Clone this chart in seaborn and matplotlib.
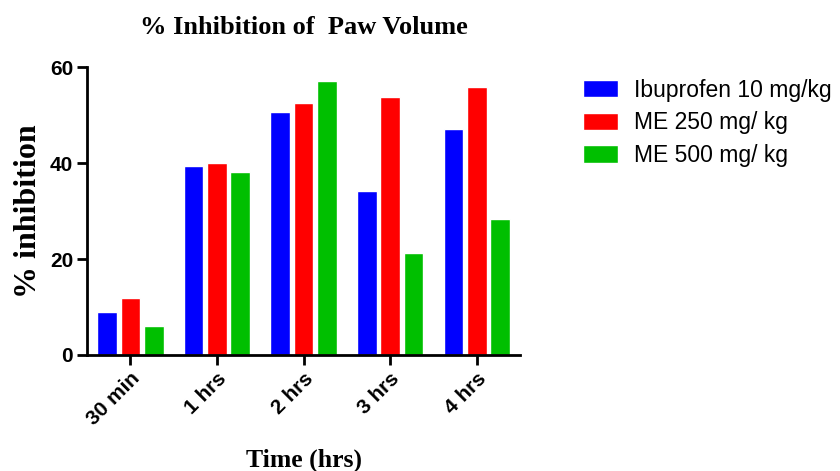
import pandas as pd
import numpy as np
import matplotlib
matplotlib.use('Agg')
import matplotlib.pyplot as plt
import seaborn as sns

# 資料
times = ['30 min', '1 hrs', '2 hrs', '3 hrs', '4 hrs']
groups = ['Ibuprofen 10 mg/kg', 'ME 250 mg/ kg', 'ME 500 mg/ kg']
ibuprofen = [8.9, 39.4, 50.6, 34.2, 47.1]
me250 = [11.9, 40.1, 52.6, 53.8, 55.8]
me500 = [6.0, 38.1, 57.1, 21.3, 28.3]
colors = ['#0000FF', '#FF0000', '#00BF00']

df = pd.DataFrame({
    'Time': times * 3,
    'Group': [groups[0]] * 5 + [groups[1]] * 5 + [groups[2]] * 5,
    'Inhibition': ibuprofen + me250 + me500,
})

sns.set_style('white')
plt.rcParams['font.family'] = ['Liberation Sans', 'DejaVu Sans']
plt.rcParams['text.color'] = 'black'
plt.rcParams['axes.labelcolor'] = 'black'
plt.rcParams['xtick.color'] = 'black'
plt.rcParams['ytick.color'] = 'black'

fig = plt.figure(figsize=(8.4, 4.71), dpi=100)
ax = fig.add_axes([0.1036, 0.2463, 0.5155, 0.6114])

sns.barplot(data=df, x='Time', y='Inhibition', hue='Group', order=times,
            hue_order=groups, palette=colors, width=0.81, gap=0.16,
            saturation=1, ax=ax, errorbar=None)

ax.set_xlim(-0.5, 4.5)
ax.set_ylim(0, 60)
ax.set_yticks([0, 20, 40, 60])

# 軸線
for s in ['top', 'right']:
    ax.spines[s].set_visible(False)
for s in ['left', 'bottom']:
    ax.spines[s].set_linewidth(2.0)
    ax.spines[s].set_color('black')
ax.tick_params(axis='both', direction='out', width=2.0, length=7, color='black',
               left=True, bottom=True, pad=3)
for lab in ax.get_yticklabels():
    lab.set_fontweight('bold')
    lab.set_fontsize(15)
for lab in ax.get_xticklabels():
    lab.set_fontweight('bold')
    lab.set_fontsize(15)
    lab.set_rotation(45)
    lab.set_ha('right')
    lab.set_rotation_mode('anchor')

ax.set_xlabel('Time (hrs)', family='Liberation Serif', fontweight='bold',
              fontsize=18.5, labelpad=14)
ax.set_ylabel('% inhibition', family='Liberation Serif', fontweight='bold',
              fontsize=23, labelpad=5)
ax.set_title('% Inhibition of  Paw Volume', family='Liberation Serif',
             fontweight='bold', fontsize=19, pad=24)

ax.legend(loc='upper left', bbox_to_anchor=(0.694, 0.833),
          bbox_transform=fig.transFigure, frameon=False, borderpad=0,
          borderaxespad=0, fontsize=16.5, handlelength=1.53, handleheight=0.79,
          labelspacing=0.42, handletextpad=0.7)

plt.savefig('out.png', dpi=100)
plt.close()
